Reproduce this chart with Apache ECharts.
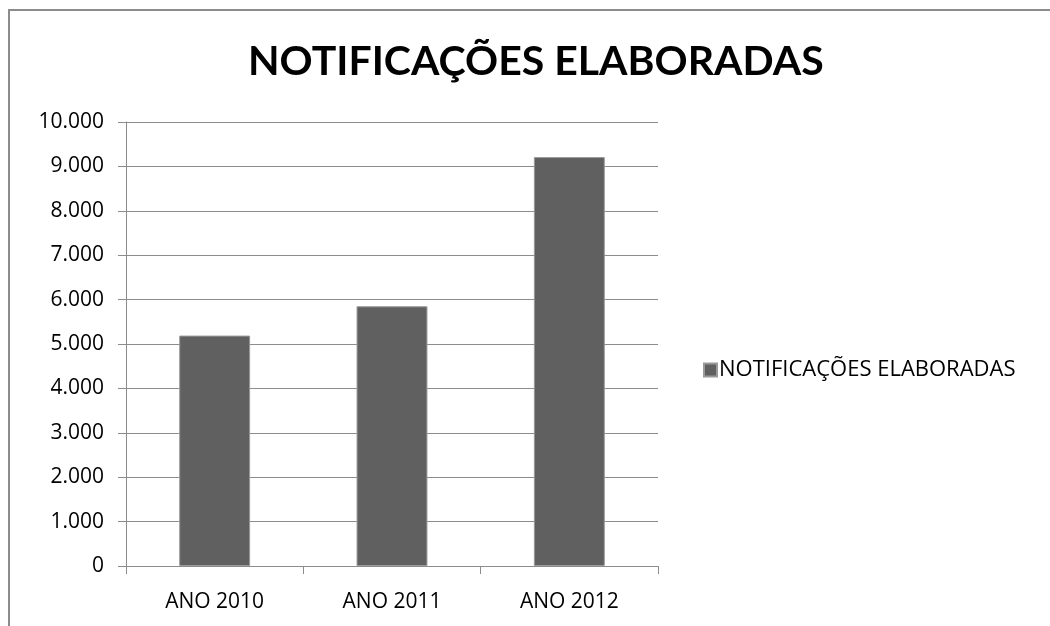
<!DOCTYPE html>
<html>
<head>
<meta charset="utf-8">
<script src="https://cdn.jsdelivr.net/npm/echarts@6/dist/echarts.min.js"></script>
<style>
  html, body { margin: 0; padding: 0; background: #fff; }
  #chart { width: 1050px; height: 626px; }
</style>
</head>
<body>
<div id="chart"></div>
<script>
// dados
const categories = ['ANO 2010', 'ANO 2011', 'ANO 2012']
const notificacoes = [5190, 5850, 9210]
const seriesName = 'NOTIFICAÇÕES ELABORADAS'
const titleText = 'NOTIFICAÇÕES ELABORADAS'

const chart = echarts.init(document.getElementById('chart'))

// 1.000 / 10.000 style
const fmt = v => String(v).replace(/\B(?=(\d{3})+(?!\d))/g, '.')

const option = {
  animation: false,
  backgroundColor: '#fff',
  textStyle: { fontFamily: '"Open Sans", sans-serif' },
  graphic: [
    {
      type: 'rect',
      silent: true,
      shape: { x: 9, y: 10, width: 1100, height: 700 },
      style: { fill: 'none', stroke: '#8c8c8c', lineWidth: 2 }
    }
  ],
  title: {
    text: titleText,
    left: 243,
    top: 36,
    textStyle: {
      fontFamily: 'Lato, "Open Sans", sans-serif',
      fontWeight: 'bold',
      fontSize: 41,
      color: '#000'
    }
  },
  legend: {
    data: [seriesName],
    orient: 'vertical',
    left: 698,
    top: 354,
    itemWidth: 13,
    itemHeight: 13,
    itemGap: 4,
    icon: 'rect',
    textStyle: { fontSize: 22, color: '#000', padding: [0, 0, 0, -3] }
  },
  grid: {
    left: 126,
    right: 392,
    top: 122,
    bottom: 60
  },
  xAxis: {
    type: 'category',
    data: categories,
    axisLine: { lineStyle: { color: '#8c8c8c', width: 1 } },
    axisTick: { show: true, length: 8, lineStyle: { color: '#8c8c8c' } },
    axisLabel: { fontSize: 21, color: '#000', margin: 26 },
    splitLine: { show: false }
  },
  yAxis: {
    type: 'value',
    min: 0,
    max: 10000,
    interval: 1000,
    axisLine: { show: true, lineStyle: { color: '#8c8c8c', width: 1 } },
    axisTick: { show: true, length: 8, lineStyle: { color: '#8c8c8c' } },
    axisLabel: { fontSize: 21, color: '#000', margin: 22, formatter: fmt },
    splitLine: { lineStyle: { color: '#8c8c8c', width: 1 } }
  },
  series: [
    {
      name: seriesName,
      type: 'bar',
      data: notificacoes,
      barWidth: '40%',
      itemStyle: { color: '#606060', borderColor: '#9a9a9a', borderWidth: 1 }
    }
  ]
}

chart.setOption(option)
</script>
</body>
</html>
